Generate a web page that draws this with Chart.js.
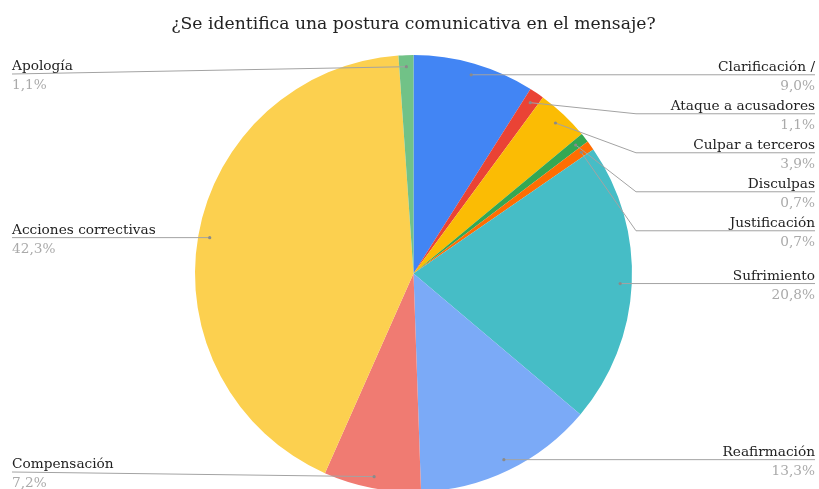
<!DOCTYPE html>
<html>
<head>
<meta charset="utf-8">
<script src="https://cdn.jsdelivr.net/npm/chart.js@4"></script>
<style>
  html, body { margin: 0; padding: 0; background: #fff; overflow: hidden; }
  #wrap { width: 819px; height: 500px; }
</style>
</head>
<body>
<div id="wrap"><canvas id="postureChart" width="819" height="500"></canvas></div>
<script>
const TITLE = '¿Se identifica una postura comunicativa en el mensaje?';
const labels = ['Clarificación /', 'Ataque a acusadores', 'Culpar a terceros', 'Disculpas', 'Justificación',
                'Sufrimiento', 'Reafirmación', 'Compensación', 'Acciones correctivas', 'Apología'];
const shares = [9.0, 1.1, 3.9, 0.7, 0.7, 20.8, 13.3, 7.2, 42.3, 1.1];
const colors = ['#4285f4', '#ea4335', '#fbbc04', '#34a853', '#ff6d01',
                '#46bdc6', '#7baaf7', '#f07b72', '#fcd04f', '#71c287'];

const FONT = "'DejaVu Serif', serif";
const GAP = 39;          // min vertical distance between callouts on one side
const TOP_LIMIT = 74;
const BOTTOM_LIMIT = 472;

function pct(v) {
    return v.toFixed(1).replace('.', ',') + '%';
}

// title, leader lines and outside labels
const calloutPlugin = {
    id: 'callouts',
    afterDatasetsDraw(chart) {
        const ctx = chart.ctx;
        const arcs = chart.getDatasetMeta(0).data;
        const cx = arcs[0].x;
        const R = arcs[0].outerRadius;

        const items = arcs.map((arc, i) => {
            const mid = (arc.startAngle + arc.endAngle) / 2;
            const r = arc.outerRadius * 0.947;
            const x = arc.x + Math.cos(mid) * r;
            const y = arc.y + Math.sin(mid) * r;
            return { i, x, y, right: x >= arc.x, lineY: y };
        });

        [true, false].forEach(side => {
            const group = items.filter(it => it.right === side).sort((a, b) => a.y - b.y);
            let prev = -Infinity;
            group.forEach(it => {
                let y = Math.max(it.y, prev + GAP, TOP_LIMIT);
                y = Math.min(y, BOTTOM_LIMIT);
                it.lineY = y;
                prev = y;
            });
        });

        ctx.save();
        items.forEach(it => {
            const edge = it.right ? 815 : 12;
            ctx.strokeStyle = '#a3a3a3';
            ctx.lineWidth = 1;
            ctx.beginPath();
            ctx.moveTo(it.x, it.y);
            if (Math.abs(it.lineY - it.y) > 10) {
                const ex = it.right ? cx + R + 4 : cx - R - 4;
                ctx.lineTo(ex, it.lineY);
            }
            ctx.lineTo(edge, it.lineY);
            ctx.stroke();

            ctx.fillStyle = '#8a8a8a';
            ctx.beginPath();
            ctx.arc(it.x, it.y, 1.6, 0, Math.PI * 2);
            ctx.fill();

            ctx.textAlign = it.right ? 'right' : 'left';
            ctx.textBaseline = 'alphabetic';
            ctx.font = '13.7px ' + FONT;
            ctx.fillStyle = '#222';
            ctx.fillText(labels[it.i], edge, it.lineY - 4);
            ctx.fillStyle = '#aaa';
            ctx.fillText(pct(shares[it.i]), edge, it.lineY + 15);
        });

        ctx.textAlign = 'center';
        ctx.font = '17.2px ' + FONT;
        ctx.fillStyle = '#222';
        ctx.fillText(TITLE, cx, 29);
        ctx.restore();
    }
};

new Chart(document.getElementById('postureChart'), {
    type: 'pie',
    data: {
        labels: labels,
        datasets: [{
            data: shares,
            backgroundColor: colors,
            borderWidth: 0
        }]
    },
    options: {
        responsive: false,
        animation: false,
        layout: { padding: { top: 55, bottom: 8, left: 195, right: 187 } },
        plugins: {
            legend: { display: false },
            tooltip: { enabled: false }
        }
    },
    plugins: [calloutPlugin]
});
</script>
</body>
</html>
